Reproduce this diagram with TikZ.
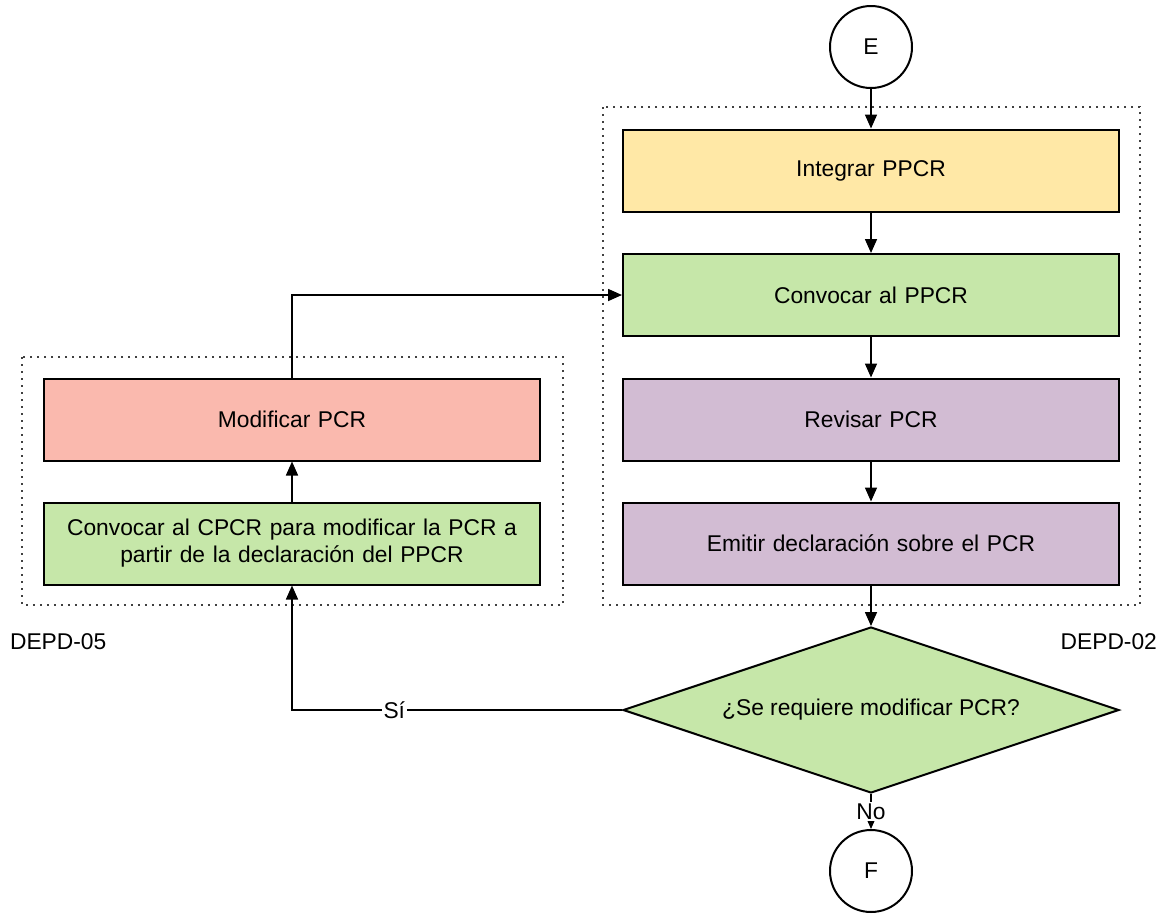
\documentclass[tikz,border=0pt]{standalone}
\usepackage{fontspec}
\setmainfont{Liberation Sans}
\usetikzlibrary{shapes.geometric, positioning, arrows.meta}
\definecolor{amarillo}{HTML}{FFE8A6}
\definecolor{verde}{HTML}{C6E7A9}
\definecolor{morado}{HTML}{D2BCD3}
\definecolor{salmon}{HTML}{FAB9AE}
\tikzset{
	caja/.style={
		draw,
		line width=1pt,
		minimum width=248pt,
		minimum height=41pt,
		inner sep=2pt,
		text width=240pt,
		align=center
	},
	decision/.style={
		diamond,
		draw,
		line width=1pt,
		fill=verde,
		aspect=3,
		inner sep=1pt,
		minimum width=248pt,
		minimum height=83pt
	},
	conector/.style={
		circle,
		draw,
		line width=1pt,
		minimum size=41pt,
		inner sep=0
	},
	flecha/.style={
		line width=0.8pt,
		-{Triangle[length=7pt,width=6pt]}
	},
	grupo/.style={
		line width=0.8pt,
		black!75,
		dash pattern=on 0.8pt off 2.7pt
	},
	etiqueta/.style={
		fill=white,
		inner sep=1pt
	}
}

\begin{document}
\begin{tikzpicture}[x=0.5pt, y=-0.5pt, font=\fontsize{11.4}{13.5}\selectfont]
		\useasboundingbox (0,0) rectangle (1164,917);
		% grupos
		\draw[grupo] (603,107) rectangle (1140,605);
		\draw[grupo] (22,357) rectangle (563,605);
		\node[anchor=east] (depd02) at (1164,642) {DEPD-02};
		\node[anchor=west] (depd05) at (3,642) {DEPD-05};
		
		\node[conector] (E) at (871,47) {E};
		\node[caja, fill=amarillo] (integrar) at (871,170.5) {Integrar PPCR};
		\node[caja, fill=verde] (convocar) at (871,295) {Convocar al PPCR};
		\node[caja, fill=morado] (revisar) at (871,419.5) {Revisar PCR};
		\node[caja, fill=morado] (emitir) at (871,543.5) {Emitir declaración sobre el PCR};
		\node[decision] (modif) at (871,710) {¿Se requiere modificar PCR?};
		\node[conector] (F) at (871,871) {F};
		
		\node[caja, fill=salmon] (modificar) at (292,419.5) {Modificar PCR};
		\node[caja, fill=verde] (cpcr) at (292,543.5) {Convocar al CPCR para modificar la PCR a\\ partir de la declaración del PPCR};
		
		\draw[flecha] (E) -- (integrar);
		\draw[flecha] (integrar) -- (convocar);
		\draw[flecha] (convocar) -- (revisar);
		\draw[flecha] (revisar) -- (emitir);
		\draw[flecha] (emitir) -- (modif);
		\draw[flecha] (modif.south) -- node[etiqueta] {No} (F);
		\draw[flecha] (modif.west) -| node[etiqueta, pos=0.345] {Sí} (cpcr.south);
		\draw[flecha] (cpcr) -- (modificar);
		\draw[flecha] (modificar.north) |- (convocar.west);
\end{tikzpicture}
\end{document}
